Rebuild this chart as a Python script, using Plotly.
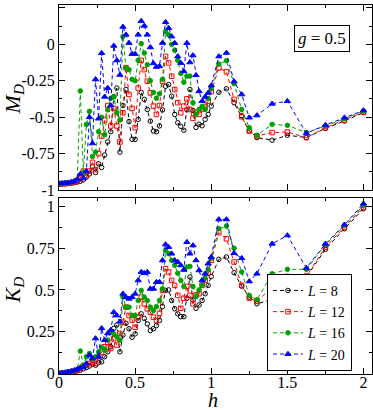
import plotly.graph_objects as go

# ---------------- data ----------------
h = [0.0, 0.02, 0.04, 0.06, 0.08, 0.1, 0.12, 0.14, 0.16, 0.18,
     0.2, 0.22, 0.24, 0.26, 0.28, 0.3, 0.32, 0.34, 0.36, 0.38,
     0.4, 0.42, 0.44, 0.46, 0.48, 0.5, 0.52, 0.54, 0.56, 0.58,
     0.6, 0.62, 0.64, 0.66, 0.68, 0.7, 0.72, 0.74, 0.76, 0.78,
     0.8, 0.82, 0.84, 0.86, 0.88, 0.9, 0.92, 0.94, 0.96, 0.98, 1.0,
     1.05, 1.1, 1.15, 1.2, 1.25, 1.3, 1.4, 1.5, 1.625, 1.75, 1.875, 2.0]

labels = ["<i>L</i> = 8", "<i>L</i> = 12", "<i>L</i> = 16", "<i>L</i> = 20"]

M_L8 = [-0.96, -0.959, -0.958, -0.956, -0.953, -0.95, -0.945, -0.94, -0.93, -0.91,
        -0.89, -0.84, -0.88, -0.82, -0.845, -0.76, -0.67, -0.6, -0.36, -0.3,
        -0.74, -0.42, -0.31, -0.53, -0.652, -0.652, -0.515, -0.33, -0.378, -0.447,
        -0.527, -0.595, -0.6, -0.56, -0.45, -0.288, -0.276, -0.356, -0.481, -0.538,
        -0.563, -0.59, -0.45, -0.31, -0.454, -0.57, -0.549, -0.559, -0.515, -0.481, -0.424,
        -0.329, -0.305, -0.401, -0.49, -0.595, -0.64, -0.658, -0.624, -0.64, -0.577, -0.526, -0.469]
M_L12 = [-0.957, -0.956, -0.955, -0.953, -0.95, -0.945, -0.94, -0.925, -0.87, -0.9,
         -0.87, -0.81, -0.86, -0.75, -0.63, -0.52, -0.42, -0.56, -0.44, -0.56,
         -0.67, -0.47, -0.16, -0.344, -0.44, -0.572, -0.3, -0.11, -0.174, -0.253,
         -0.333, -0.424, -0.481, -0.42, -0.253, -0.083, -0.128, -0.219, -0.31, -0.4,
         -0.47, -0.424, -0.374, -0.447, -0.508, -0.467, -0.481, -0.447, -0.426, -0.39, -0.324,
         -0.162, -0.189, -0.378, -0.497, -0.595, -0.629, -0.606, -0.602, -0.64, -0.572, -0.52, -0.465]
M_L16 = [-0.955, -0.954, -0.952, -0.95, -0.946, -0.94, -0.93, -0.32, -0.88, -0.55,
         -0.46, -0.77, -0.74, -0.6, -0.5, -0.62, -0.45, -0.37, -0.36, -0.47,
         -0.52, 0.054, -0.16, -0.174, -0.24, -0.25, -0.11, 0.005, -0.06, -0.14,
         -0.25, -0.33, -0.37, -0.34, -0.24, 0.088, 0.066, 0.0, -0.04, -0.11,
         -0.2, -0.26, -0.218, -0.218, -0.4, -0.48, -0.447, -0.426, -0.447, -0.372, -0.303,
         -0.135, -0.112, -0.27, -0.447, -0.572, -0.624, -0.549, -0.556, -0.606, -0.561, -0.51, -0.458]
M_L20 = [-0.955, -0.954, -0.952, -0.95, -0.946, -0.94, -0.925, -0.89, -0.92, -0.87,
         -0.5, -0.68, -0.24, -0.51, -0.06, -0.36, -0.3, -0.42, -0.01, -0.11,
         -0.21, 0.12, 0.066, 0.009, -0.066, -0.066, 0.066, 0.16, 0.127, 0.066,
         -0.02, -0.13, -0.155, -0.15, 0.01, 0.152, 0.111, 0.054, 0.009, -0.083,
         -0.128, -0.185, 0.009, -0.124, -0.076, -0.212, -0.322, -0.39, -0.36, -0.333, -0.283,
         -0.083, -0.059, -0.255, -0.344, -0.503, -0.488, -0.408, -0.39, -0.611, -0.554, -0.503, -0.454]

K_L8 = [0.0, 0.002, 0.004, 0.006, 0.009, 0.012, 0.016, 0.02, 0.028, 0.035,
        0.045, 0.055, 0.05, 0.065, 0.07, 0.1, 0.13, 0.16, 0.27, 0.29,
        0.13, 0.23, 0.3, 0.268, 0.217, 0.237, 0.317, 0.357, 0.33, 0.297,
        0.257, 0.268, 0.287, 0.317, 0.4, 0.497, 0.5, 0.437, 0.387, 0.357,
        0.34, 0.34, 0.45, 0.577, 0.44, 0.39, 0.41, 0.437, 0.477, 0.527, 0.58,
        0.683, 0.697, 0.603, 0.523, 0.457, 0.417, 0.443, 0.527, 0.577, 0.743, 0.866, 0.986]
K_L12 = [0.0, 0.002, 0.004, 0.007, 0.01, 0.014, 0.02, 0.03, 0.045, 0.05,
         0.06, 0.068, 0.06, 0.1, 0.128, 0.16, 0.187, 0.15, 0.208, 0.17,
         0.24, 0.307, 0.397, 0.347, 0.32, 0.277, 0.337, 0.457, 0.417, 0.387,
         0.367, 0.337, 0.317, 0.36, 0.497, 0.627, 0.607, 0.557, 0.527, 0.467,
         0.39, 0.45, 0.521, 0.467, 0.417, 0.47, 0.477, 0.527, 0.557, 0.6, 0.677,
         0.842, 0.806, 0.667, 0.527, 0.451, 0.431, 0.517, 0.581, 0.583, 0.756, 0.876, 0.996]
K_L16 = [0.0, 0.002, 0.005, 0.009, 0.013, 0.018, 0.024, 0.134, 0.05, 0.1,
         0.12, 0.09, 0.1, 0.13, 0.157, 0.14, 0.2, 0.247, 0.237, 0.22,
         0.2, 0.457, 0.397, 0.397, 0.347, 0.347, 0.437, 0.497, 0.457, 0.437,
         0.397, 0.377, 0.4, 0.437, 0.507, 0.737, 0.717, 0.677, 0.647, 0.6,
         0.557, 0.52, 0.637, 0.641, 0.52, 0.46, 0.5, 0.53, 0.57, 0.62, 0.69,
         0.866, 0.882, 0.75, 0.607, 0.467, 0.441, 0.597, 0.623, 0.623, 0.771, 0.886, 1.006]
K_L20 = [0.0, 0.003, 0.006, 0.01, 0.014, 0.019, 0.025, 0.035, 0.04, 0.06,
         0.11, 0.09, 0.21, 0.1, 0.27, 0.2, 0.24, 0.26, 0.367, 0.347,
         0.31, 0.477, 0.457, 0.447, 0.457, 0.477, 0.557, 0.607, 0.6, 0.607,
         0.507, 0.507, 0.547, 0.547, 0.677, 0.772, 0.756, 0.717, 0.677, 0.667,
         0.647, 0.62, 0.786, 0.717, 0.766, 0.677, 0.617, 0.557, 0.597, 0.657, 0.697,
         0.922, 0.922, 0.72, 0.69, 0.551, 0.597, 0.776, 0.826, 0.631, 0.776, 0.89, 1.016]

x_tickvals = [0, 0.5, 1, 1.5, 2]
x_ticktext = ["0", "0.5", "1", "1.5", "2"]
M_tickvals = [0.25, 0, -0.25, -0.5, -0.75, -1]
M_ticktext = ["0.25", "0", "-0.25", "-0.5", "-0.75", "-1"]
K_tickvals = [0, 0.25, 0.5, 0.75, 1]
K_ticktext = ["0", "0.25", "0.5", "0.75", "1"]

# ---------------- styles ----------------
colors = ["#000000", "#ff0000", "#00a000", "#0000ff"]
symbols = ["circle-open", "square-open", "circle", "triangle-up"]
msizes = [4.5, 4.5, 4.5, 5.5]
M_all = [M_L8, M_L12, M_L16, M_L20]
K_all = [K_L8, K_L12, K_L16, K_L20]

FONT = "Liberation Serif, Times New Roman, serif"

fig = go.Figure()
for i in range(4):
    line = dict(color=colors[i], width=1, dash="4px,3px")
    marker = dict(symbol=symbols[i], size=msizes[i], color=colors[i],
                  line=dict(color=colors[i], width=1))
    fig.add_trace(go.Scatter(x=h, y=M_all[i], mode="lines+markers", line=line,
                             marker=marker, xaxis="x", yaxis="y",
                             showlegend=False, name=labels[i]))
for i in range(4):
    line = dict(color=colors[i], width=1, dash="4px,3px")
    marker = dict(symbol=symbols[i], size=msizes[i], color=colors[i],
                  line=dict(color=colors[i], width=1))
    fig.add_trace(go.Scatter(x=h, y=K_all[i], mode="lines+markers", line=line,
                             marker=marker, xaxis="x2", yaxis="y2",
                             showlegend=True, name=labels[i]))

axis_common = dict(showline=True, linecolor="black", linewidth=1, mirror="allticks",
                   ticks="inside", ticklen=6, tickwidth=1, tickcolor="black",
                   showgrid=False, zeroline=False,
                   tickfont=dict(family=FONT, size=16, color="black"))

fig.update_layout(
    width=373, height=410,
    margin=dict(l=59, r=1, t=5, b=36),
    paper_bgcolor="white", plot_bgcolor="white",
    font=dict(family=FONT, color="black"),
    xaxis=dict(domain=[0, 1], anchor="y", range=[0, 2.056],
               tickvals=x_tickvals, ticktext=x_ticktext, showticklabels=False,
               minor=dict(dtick=0.25, tick0=0, ticklen=3, ticks="inside", tickcolor="black"),
               **axis_common),
    xaxis2=dict(domain=[0, 1], anchor="y2", range=[0, 2.056], matches="x",
                tickvals=x_tickvals, ticktext=x_ticktext, ticklabelstandoff=-6,
                minor=dict(dtick=0.25, tick0=0, ticklen=3, ticks="inside", tickcolor="black"),
                **axis_common),
    yaxis=dict(domain=[0.4986, 1], anchor="x", range=[-1.0, 0.27],
               tickvals=M_tickvals, ticktext=M_ticktext,
               minor=dict(dtick=0.125, tick0=0, ticklen=3, ticks="inside", tickcolor="black"),
               **axis_common),
    yaxis2=dict(domain=[0, 0.477], anchor="x2", range=[-0.003, 1.05],
                tickvals=K_tickvals, ticktext=K_ticktext,
                minor=dict(dtick=0.125, tick0=0, ticklen=3, ticks="inside", tickcolor="black"),
                **axis_common),
    legend=dict(x=0.936, xanchor="right", y=0.14, yanchor="middle",
                bordercolor="black", borderwidth=1, bgcolor="white",
                font=dict(family=FONT, size=14, color="black"),
                itemwidth=30, tracegroupgap=0),
    annotations=[
        dict(text="<i>M</i><sub><i>D</i></sub>", xref="paper", yref="paper",
             x=-0.145, y=0.743, xanchor="center", yanchor="middle",
             textangle=-90, showarrow=False,
             font=dict(family=FONT, size=22, color="black")),
        dict(text="<i>K</i><sub><i>D</i></sub>", xref="paper", yref="paper",
             x=-0.145, y=0.228, xanchor="center", yanchor="middle",
             textangle=-90, showarrow=False,
             font=dict(family=FONT, size=22, color="black")),
        dict(text="<i>h</i>", xref="paper", yref="paper",
             x=0.492, y=-0.0705, xanchor="center", yanchor="middle", showarrow=False,
             font=dict(family=FONT, size=20, color="black")),
        dict(text="<i>g</i> = 0.5", xref="paper", yref="paper",
             x=0.839, y=0.909, xanchor="center", yanchor="middle", showarrow=False,
             bordercolor="black", borderwidth=1, borderpad=3, bgcolor="white",
             font=dict(family=FONT, size=17, color="black")),
    ],
)

fig.write_html("out.html", config={"displayModeBar": False},
               post_script="document.body.style.margin='0';")
